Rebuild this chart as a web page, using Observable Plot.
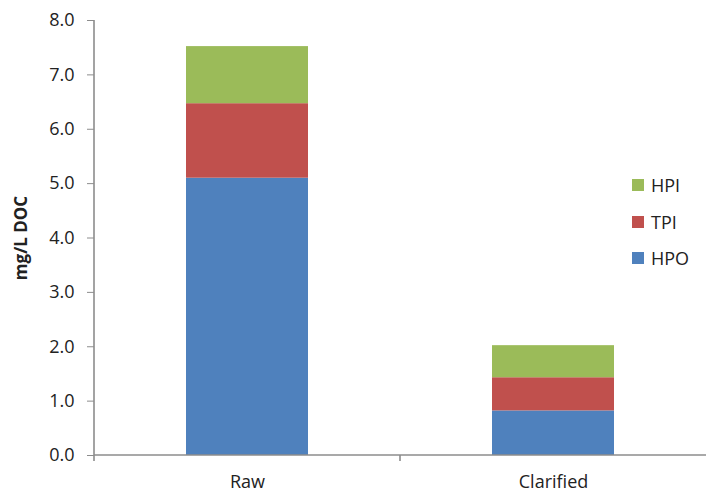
<!DOCTYPE html>
<html>
<head>
<meta charset="utf-8">
<script src="https://cdn.jsdelivr.net/npm/d3@7"></script>
<script src="https://cdn.jsdelivr.net/npm/@observablehq/plot@0.6"></script>
<style>
  html, body { margin: 0; padding: 0; background: #fff; }
  #wrap { position: relative; width: 712px; height: 495px; font-family: "Open Sans", sans-serif; }
  #legend { position: absolute; left: 632px; top: 174px; font-size: 18px; color: #222; }
  #legend .row { display: flex; align-items: center; height: 22px; margin-bottom: 14.6px; }
  #legend .sw { width: 12px; height: 12px; margin-right: 7px; }
</style>
</head>
<body>
<div id="wrap"></div>
<script>
const categories = ["Raw", "Clarified"];
const fractions = ["HPO", "TPI", "HPI"];
const hpo = [5.10, 0.82];
const tpi = [1.37, 0.61];
const hpi = [1.05, 0.59];
const colors = ["#4F81BD", "#C0504D", "#9BBB59"];
const yTicks = [0, 1, 2, 3, 4, 5, 6, 7, 8];
const yLabel = "mg/L DOC";

const series = [hpo, tpi, hpi];
const data = [];
categories.forEach((c, i) => fractions.forEach((f, j) => data.push({category: c, fraction: f, value: series[j][i]})));

const axisColor = "#8c8c8c";

function axisLines(index, scales, values, dim) {
  const {width, height, marginLeft, marginRight} = dim;
  const x0 = marginLeft, x1 = width - marginRight;
  const yb = scales.y(0), yt = scales.y(d3.max(yTicks));
  const g = d3.create("svg:g").attr("stroke", axisColor).attr("stroke-width", 1.6).attr("fill", "none");
  g.append("line").attr("x1", x0).attr("x2", x0).attr("y1", yt).attr("y2", yb + 6);
  g.append("line").attr("x1", x0).attr("x2", x1).attr("y1", yb).attr("y2", yb);
  const bw = scales.x.bandwidth(), step = scales.x.step();
  categories.slice(1).forEach(c => {
    const bx = scales.x(c) - (step - bw) / 2;
    g.append("line").attr("x1", bx).attr("x2", bx).attr("y1", yb).attr("y2", yb + 6);
  });
  return g.node();
}

const chart = Plot.plot({
  width: 712,
  height: 495,
  marginLeft: 94,
  marginRight: 6,
  marginTop: 20,
  marginBottom: 40,
  style: {fontFamily: "Open Sans, sans-serif", fontSize: "18px", color: "#222", background: "#fff"},
  x: {domain: categories, paddingInner: 0.6, paddingOuter: 0.3, label: null},
  y: {domain: [0, 8], label: yLabel},
  color: {domain: fractions, range: colors},
  marks: [
    Plot.barY(data, {x: "category", y: "value", fill: "fraction", order: fractions, inset: 0}),
    Plot.axisX({tickSize: 0, tickPadding: 20, label: null, fontSize: 18}),
    Plot.axisY({ticks: yTicks, tickFormat: d3.format(".1f"), tickSize: 7, tickPadding: 13,
      stroke: axisColor, label: yLabel, labelAnchor: "center", labelOffset: 80, fontSize: 18}),
    axisLines
  ]
});

const wrap = document.getElementById("wrap");
wrap.appendChild(chart);
const lab = chart.querySelector('[aria-label="y-axis label"]');
if (lab) {
  lab.setAttribute("font-weight", "bold");
  lab.setAttribute("font-size", "17px");
  const t = lab.querySelector("text") || lab;
  t.textContent = yLabel;
}

const legend = document.createElement("div");
legend.id = "legend";
fractions.slice().reverse().forEach(f => {
  const row = document.createElement("div");
  row.className = "row";
  const sw = document.createElement("span");
  sw.className = "sw";
  sw.style.background = colors[fractions.indexOf(f)];
  const t = document.createElement("span");
  t.textContent = f;
  row.appendChild(sw); row.appendChild(t);
  legend.appendChild(row);
});
wrap.appendChild(legend);
</script>
</body>
</html>
